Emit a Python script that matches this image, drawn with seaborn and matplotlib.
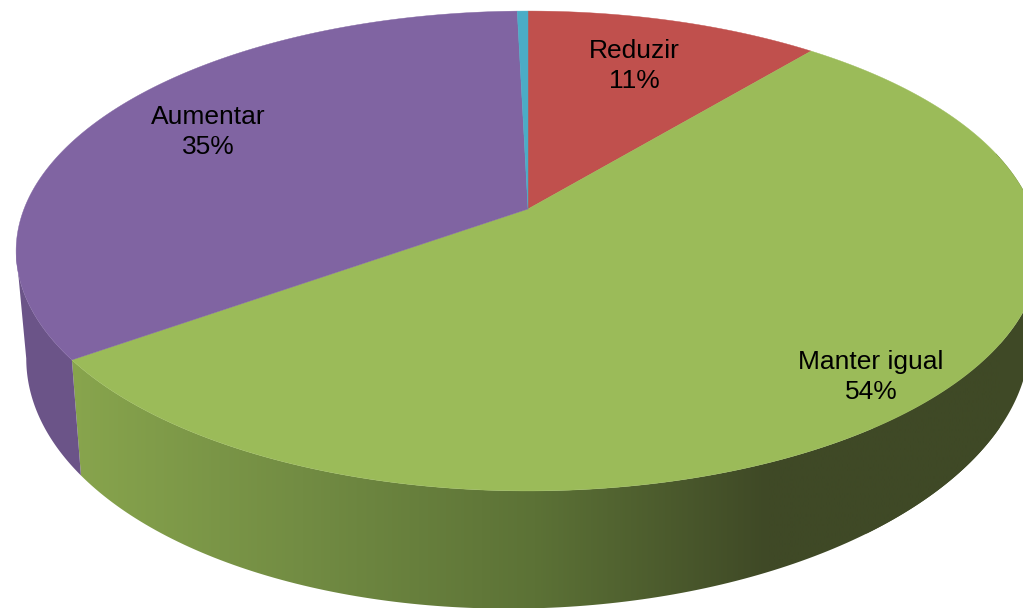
import numpy as np
import matplotlib
matplotlib.use('Agg')
import matplotlib.pyplot as plt
from matplotlib.patches import Polygon
import seaborn as sns

# data, clockwise from 12 o'clock
categories = ['Reduzir', 'Manter igual', 'Aumentar', 'Outros']
values = [11.0, 54.1, 34.5, 0.4]
shown_pct = [11, 54, 35, None]
colors = ['#c0504d', '#9bbb59', '#8064a2', '#4bacc6']
wall_purple = '#6b5488'
green_wall_stops = ['#88a54d', '#728c43', '#5c7236', '#3f4926', '#3f4926']

# perspective of the disc, in pixels of the 1023x608 picture
W, H = 1023, 608
CX, K = 528, 0.175
TOP = dict(a=504, b=232.6, y0=209, tilt=0)
BOT = dict(a=494, b=252, y0=303, tilt=-0.02)


def project(theta, plane):
    u, v = np.sin(theta), np.cos(theta)
    d = 1 + K * v
    x = CX + plane['a'] * u / d
    y = plane['y0'] - plane['b'] * v / d + plane['tilt'] * (x - CX)
    return x, y


def wall_outline(start, stop):
    t = np.linspace(start, stop, 200)
    xt, yt = project(t, TOP)
    xb, yb = project(t[::-1], BOT)
    return np.c_[np.r_[xt, xb], np.r_[yt, yb]]


sns.set_theme(style='white')
plt.rcParams['font.family'] = ['Liberation Sans', 'DejaVu Sans']

fig = plt.figure(figsize=(W / 100, H / 100), dpi=100)
ax = fig.add_axes([0, 0, 1, 1])

edges = np.cumsum([0] + values) / sum(values) * 2 * np.pi

# side wall: green gets a dark ramp running left to right
ramp = np.array(sns.blend_palette(green_wall_stops, 256))[None, :, :3]
img = ax.imshow(ramp, extent=(70, 1000, H, 0), aspect='auto', zorder=2,
                interpolation='bilinear')
green_wall = Polygon(wall_outline(np.pi * 0.42, edges[2]), transform=ax.transData,
                     fc='none', ec='none')
ax.add_patch(green_wall)
img.set_clip_path(green_wall)

# wider than 1000 on the right the ramp stays flat
ax.fill(*wall_outline(np.pi * 0.42, np.pi * 0.8).T, color=green_wall_stops[-1], lw=0, zorder=1.5)

# stop where the silhouette of the disc turns
ax.fill(*wall_outline(edges[2], np.pi * 1.444).T, color=wall_purple, lw=0, zorder=2.5)

# top face
for i, c in enumerate(colors):
    t = np.linspace(edges[i], edges[i + 1], 200)
    x, y = project(t, TOP)
    ax.fill(np.r_[CX, x], np.r_[TOP['y0'], y], color=c, lw=0.3, zorder=3)

# labels
label_pos = [(634, 66), (871, 377), (208, 132)]
for name, pct, (lx, ly) in zip(categories, shown_pct, label_pos):
    ax.text(lx, ly, f'{name}\n{pct}%', ha='center', va='center', fontsize=19,
            color='black', linespacing=1.3, zorder=5)

ax.set_xlim(0, W)
ax.set_ylim(H, 0)
ax.axis('off')

fig.savefig('out.png', dpi=100)
